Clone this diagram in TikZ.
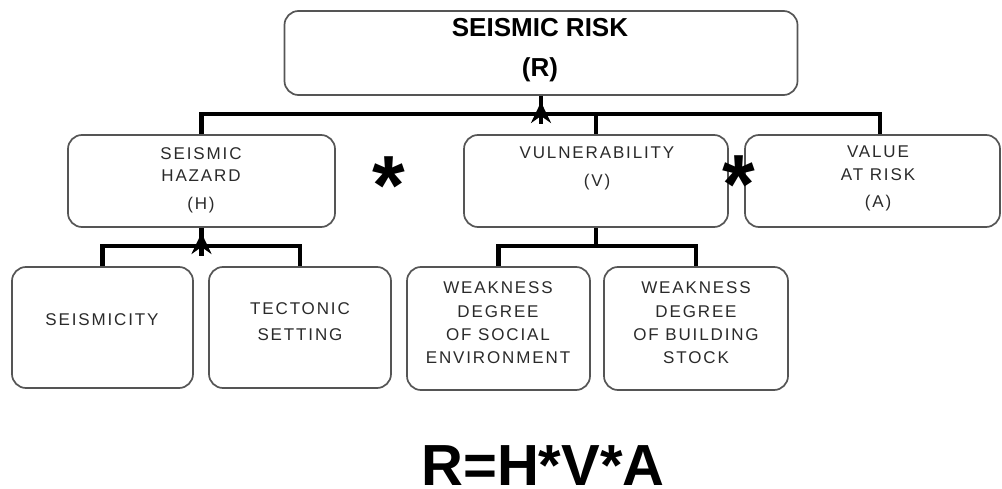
\documentclass[tikz,border=0pt]{standalone}
\usepackage{fontspec}
\setmainfont{Liberation Sans}
\newfontfamily\boxfont[LetterSpace=11]{Liberation Sans}
\usetikzlibrary{arrows.meta,calc}
\definecolor{boxgray}{HTML}{555555}
\definecolor{txt}{HTML}{2A2A2A}
\begin{document}
\begin{tikzpicture}[x=1pt,y=-1pt,
  box/.style={draw=boxgray, line width=1.7pt, rounded corners=14pt, inner sep=0pt},
  link/.style={line width=4.5pt, black, line join=miter},
  tip/.style={line width=4.5pt, -{Stealth[length=21pt,width=20pt,inset=7pt]}},
  lbl/.style={font=\boxfont\fontsize{17}{20}\selectfont, text=txt, anchor=base, inner sep=0pt},
  ttl/.style={font=\bfseries\fontsize{26}{30}\selectfont, anchor=base, inner sep=0pt},
  star/.style={font=\bfseries\fontsize{84}{84}\selectfont, anchor=base, inner sep=0pt}]
\useasboundingbox (0,0) rectangle (1002,489);

% boxes
\node[box, minimum width=513pt, minimum height=84pt] (top) at (541,53) {};
\node[box, minimum width=267pt, minimum height=92pt] (haz) at (201.5,181) {};
\node[box, minimum width=264pt, minimum height=92pt] (vul) at (596,181) {};
\node[box, minimum width=255pt, minimum height=92pt] (val) at (872.5,181) {};
\node[box, minimum width=181pt, minimum height=121pt] (sei) at (102.5,327.5) {};
\node[box, minimum width=182pt, minimum height=121pt] (tec) at (300,327.5) {};
\node[box, minimum width=183pt, minimum height=123pt] (soc) at (498.5,328.5) {};
\node[box, minimum width=184pt, minimum height=123pt] (bld) at (696,328.5) {};

% texts
\node[ttl] (t1) at (540,37) {SEISMIC RISK};
\node[ttl] (t2) at (540,77) {(R)};
\node[lbl] (h1) at (201,160) {SEISMIC};
\node[lbl] (h2) at (201,182) {HAZARD};
\node[lbl] (h3) at (201,210) {(H)};
\node[lbl] (v1) at (597,159) {VULNERABILITY};
\node[lbl] (v2) at (597,187) {(V)};
\node[lbl] (a1) at (878,158) {VALUE};
\node[lbl] (a2) at (878,181) {AT RISK};
\node[lbl] (a3) at (878,208) {(A)};
\node[lbl] (s1) at (102,325) {SEISMICITY};
\node[lbl] (c1) at (300,314) {TECTONIC};
\node[lbl] (c2) at (300,341) {SETTING};
\node[lbl] (o1) at (498,294) {WEAKNESS};
\node[lbl] (o2) at (498,317) {DEGREE};
\node[lbl] (o3) at (498,340) {OF SOCIAL};
\node[lbl] (o4) at (498,363) {ENVIRONMENT};
\node[lbl] (b1) at (696,294) {WEAKNESS};
\node[lbl] (b2) at (696,317) {DEGREE};
\node[lbl] (b3) at (696,340) {OF BUILDING};
\node[lbl] (b4) at (696,363) {STOCK};

% asterisks
\node[star] (st1) at (389,215) {*};
\node[star] (st2) at (739,214) {*};

% formula
\node[font=\bfseries\fontsize{58}{60}\selectfont, anchor=base, inner sep=0pt, text depth=0pt] (f) at (543,485) {R=H*V*A};

% connectors level 1
\coordinate (bus) at (0,115);
\draw[link] (haz.north) |- ($(val.north)+(7.5,-20)$) -- ([xshift=7.5pt]val.north);
\draw[link] (top.south) -- (top.south |- bus);
\draw[link] (vul.north) -- (vul.north |- bus);
\coordinate (ar1a) at ($(top.south |- bus)+(0,9)$);
\coordinate (ar1b) at ($(top.south |- bus)+(0,-13)$);
\draw[tip] (ar1a) -- (ar1b);

% connectors level 2 (hazard)
\coordinate (bus2) at (0,246);
\draw[link] (sei.north) |- (tec.north |- bus2) -- (tec.north);
\draw[link] (haz.south) -- (haz.south |- bus2);
\coordinate (ar2a) at ($(haz.south |- bus2)+(0,10)$);
\coordinate (ar2b) at ($(haz.south |- bus2)+(0,-13)$);
\draw[tip] (ar2a) -- (ar2b);

% connectors level 2 (vulnerability)
\draw[link] (soc.north) |- (bld.north |- bus2) -- (bld.north);
\draw[link] (vul.south) -- (vul.south |- bus2);
\end{tikzpicture}
\end{document}
